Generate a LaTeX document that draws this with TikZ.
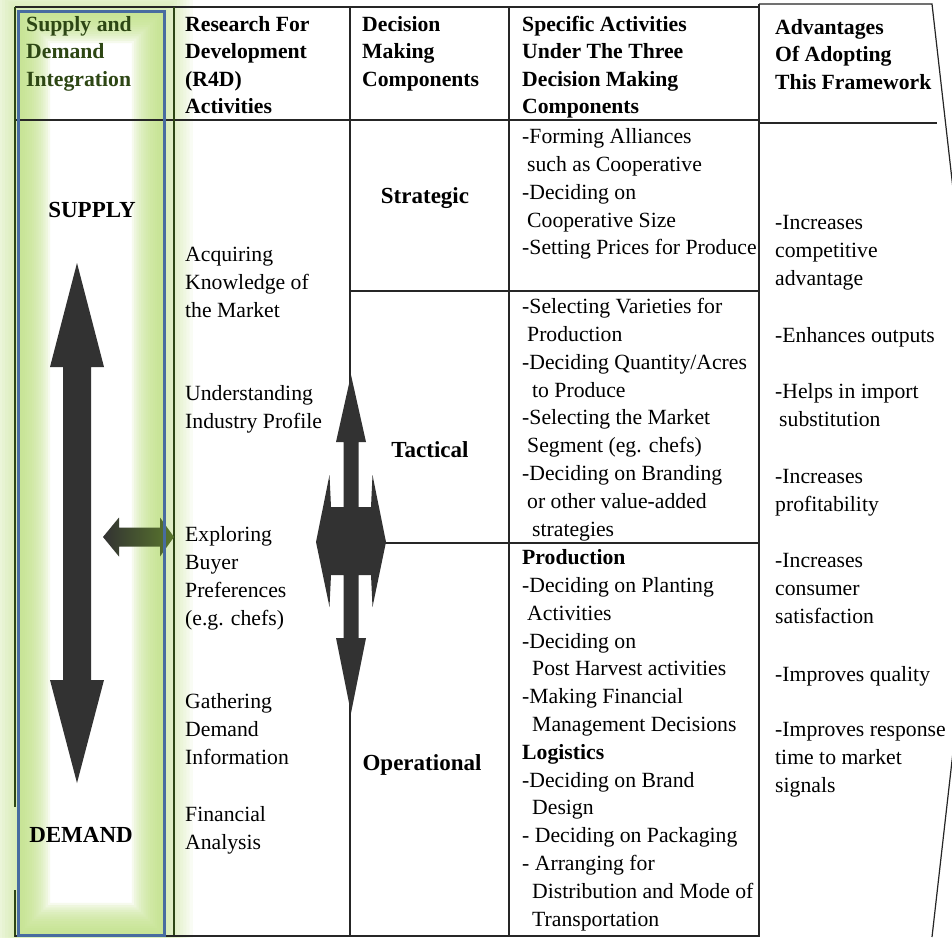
\documentclass[tikz,border=0pt]{standalone}
\usepackage{fontspec}
\setmainfont{Liberation Serif}
\usepackage{tikz}
\definecolor{glow}{RGB}{196,228,140}
\definecolor{boxblue}{RGB}{72,108,160}
\definecolor{hdgreen}{RGB}{45,70,20}
\definecolor{blk}{RGB}{50,50,50}
\definecolor{olive}{RGB}{90,120,45}
\newcommand{\bodyfont}{\fontsize{21.7}{27.8}\selectfont}
\newcommand{\hdfont}{\fontsize{21.7}{27.5}\selectfont\bfseries}
\newcommand{\labfont}{\fontsize{23}{27.8}\selectfont\bfseries}

\begin{document}
\begin{tikzpicture}[x=1pt, y=-1pt,
  hdr/.style={anchor=north west, inner sep=0pt, align=left, font=\hdfont},
  txt/.style={anchor=north west, inner sep=0pt, align=left, font=\bodyfont},
  lab/.style={anchor=base, inner sep=0pt, font=\labfont},
  rule/.style={line width=1.2pt, black!85}
]
\useasboundingbox (0,0) rectangle (952,937);
\clip (0,0) rectangle (952,937);
\fill[white] (0,0) rectangle (952,937);
% Glow round the first column
\foreach \k in {1,...,9}
  \fill[glow, opacity=0.09, even odd rule]
    (18-3.2*\k,11-3.2*\k) rectangle (164+3.2*\k,935+3.2*\k)
    (18,11) rectangle (164,935);
\foreach \k in {1,...,14}
  \fill[glow, opacity=0.15, even odd rule]
    (18,11) rectangle (164,935)
    (18+2.3*\k,11+2.3*\k) rectangle (164-2.3*\k,935-2.3*\k);
% Table rules
\draw[rule] (15,7) -- (759,7);
\draw[rule] (15,120) -- (759,120);
\draw[rule, hdgreen] (15,7) -- (15,807) (15,890) -- (15,937);
\draw[rule, hdgreen] (174,7) -- (174,937);
\draw[rule] (350,7) -- (350,937);
\draw[rule] (509,7) -- (509,937);
\draw[rule] (350,291) -- (759,291);
\draw[rule] (350,543) -- (759,543);
\draw[rule] (15,936) -- (759,936);
% Advantages column
\draw[rule] (759,4) -- (932,4) -- (985,470) -- (932,937);
\draw[rule] (759,4) -- (759,937);
\draw[rule] (759,123) -- (937,123);
% Supply-demand arrows
\fill[blk] (77,263) -- (104,367) -- (91,367) -- (91,680) -- (104,680)
  -- (77,783) -- (50,680) -- (63,680) -- (63,367) -- (50,367) -- cycle;
\shade[left color=blk, right color=olive] (103,537) -- (119,517.5)
  -- (119,527.5) -- (160,527.5) -- (160,517.5) -- (174,537) -- (160,556.5)
  -- (160,546.5) -- (119,546.5) -- (119,556.5) -- cycle;
\draw[boxblue, line width=3pt] (18,11) rectangle (164,935);
% Decision arrow
\begin{scope}[shift={(351,542)}]
\fill[blk] (-35,0) -- (-21.5,-67) -- (-20,-35) -- (-7.5,-35) -- (-7.5,-100)
  -- (-15,-100) -- (0,-167) -- (15,-100) -- (7.5,-100) -- (7.5,-35)
  -- (20,-35) -- (21.5,-67) -- (35,0) -- (21.5,65) -- (20,33) -- (7.5,33)
  -- (7.5,96) -- (15,96) -- (0,171) -- (-15,96) -- (-7.5,96) -- (-7.5,33)
  -- (-20,33) -- (-21.5,65) -- cycle;
\end{scope}
% Headers
\node[hdr, text=hdgreen] (hsd) at (26,12) {\strut Supply and\\Demand\\Integration};
\node[hdr] (hrd) at (185,12) {\strut Research For\\Development\\(R4D)\\Activities};
\node[hdr] (hdm) at (362,12) {\strut Decision\\Making\\Components};
\node[hdr] (hsa) at (522,12) {\strut Specific Activities\\Under The Three\\Decision Making\\Components};
\node[hdr] (hadv) at (775,15) {\strut Advantages\\Of Adopting\\This Framework};
% Supply and demand
\node[lab] (sup) at (92,217) {SUPPLY};
\node[lab] (dem) at (81,842) {DEMAND};
% R4D activities
\node[txt] (acq) at (185,242) {\strut Acquiring\\Knowledge of\\the Market};
\node[txt] (ind) at (185,381) {\strut Understanding\\Industry Profile};
\node[txt] (buy) at (185,522) {\strut Exploring\\Buyer\\Preferences\\(e.g. chefs)};
\node[txt] (gat) at (185,689) {\strut Gathering\\Demand\\Information};
\node[txt] (fin) at (185,802) {\strut Financial\\Analysis};
% Decision making components
\node[lab] (strat) at (425,203) {Strategic};
\node[lab] (tact) at (430,457) {Tactical};
\node[lab] (oper) at (422,770) {Operational};
% Specific activities
\node[txt] (sact) at (522,124) {\strut -Forming Alliances\\
  \hspace{5pt}such as Cooperative\\-Deciding on\\
  \hspace{5pt}Cooperative Size\\-Setting Prices for Produce};
\node[txt] (tact-a) at (522,294) {\strut -Selecting Varieties for\\
  \hspace{5pt}Production\\-Deciding Quantity/Acres\\
  \hspace{10pt}to Produce\\-Selecting the Market\\
  \hspace{5pt}Segment (eg. chefs)\\-Deciding on Branding\\
  \hspace{5pt}or other value-added\\\hspace{10pt}strategies};
\node[txt] (oper-a) at (522,545) {\strut\textbf{Production}\\
  -Deciding on Planting\\\hspace{5pt}Activities\\-Deciding on\\
  \hspace{10pt}Post Harvest activities\\-Making Financial\\
  \hspace{10pt}Management Decisions\\\textbf{Logistics}\\
  -Deciding on Brand\\\hspace{10pt}Design\\- Deciding on Packaging\\
  - Arranging for\\\hspace{10pt}Distribution and Mode of\\
  \hspace{10pt}Transportation};
% Advantages
\node[txt] (adv1) at (775,210) {\strut -Increases\\competitive\\advantage};
\node[txt] (adv2) at (775,323) {\strut -Enhances outputs};
\node[txt] (adv3) at (775,379) {\strut -Helps in import\\\hspace{4pt}substitution};
\node[txt] (adv4) at (775,464) {\strut -Increases\\profitability};
\node[txt] (adv5) at (775,548) {\strut -Increases\\consumer\\satisfaction};
\node[txt] (adv6) at (775,662) {\strut -Improves quality};
\node[txt] (adv7) at (775,717) {\strut -Improves response\\time to market\\signals};
\end{tikzpicture}
\end{document}
